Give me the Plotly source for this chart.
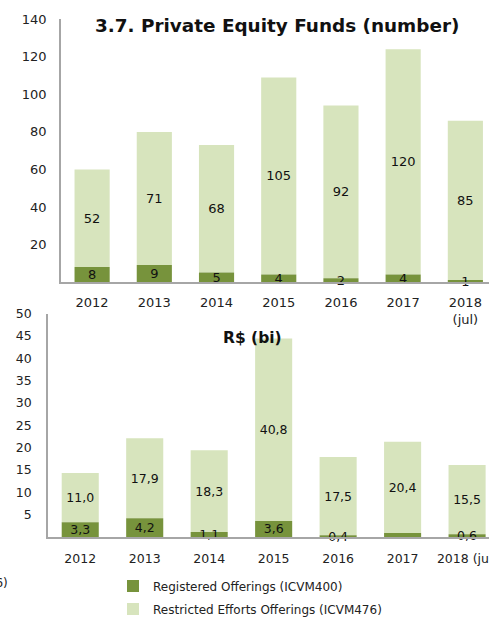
import plotly.graph_objects as go

# data
years_top = ['2012', '2013', '2014', '2015', '2016', '2017', '2018<br>(jul)']
years_bottom = ['2012', '2013', '2014', '2015', '2016', '2017', '2018 (jul)']

registered_num = [8, 9, 5, 4, 2, 4, 1]
restricted_num = [52, 71, 68, 105, 92, 120, 85]

registered_bi = [3.3, 4.2, 1.1, 3.6, 0.4, 0.9, 0.6]
restricted_bi = [11.0, 17.9, 18.3, 40.8, 17.5, 20.4, 15.5]
registered_bi_labels = ['3,3', '4,2', '1,1', '3,6', '0,4', '', '0,6']

dark_green = '#77933C'
light_green = '#D7E4BD'
axis_grey = '#A6A6A6'
font_name = 'DejaVu Sans'

W, H = 489, 618


def comma(v):
    return f'{v:.1f}'.replace('.', ',')


def px_x(p):
    return p / W


def px_y(p):
    return 1 - p / H


fig = go.Figure()

# restricted bars go first (sitting on the registered ones), so the
# small registered labels are drawn on top of everything
# top chart (number of funds)
fig.add_bar(x=years_top, y=restricted_num, base=registered_num,
            text=[str(v) for v in restricted_num],
            marker_color=light_green, width=0.565, xaxis='x', yaxis='y',
            name='Restricted Efforts Offerings (ICVM476)', showlegend=False)
fig.add_bar(x=years_top, y=registered_num, text=[str(v) for v in registered_num],
            marker_color=dark_green, width=0.565, xaxis='x', yaxis='y',
            name='Registered Offerings (ICVM400)', showlegend=False)

# bottom chart (R$ bi)
fig.add_bar(x=years_bottom, y=restricted_bi, base=registered_bi,
            text=[comma(v) for v in restricted_bi],
            marker_color=light_green, width=0.575, xaxis='x2', yaxis='y2',
            name='Restricted Efforts Offerings (ICVM476)', legend='legend2')
fig.add_bar(x=years_bottom, y=registered_bi, text=registered_bi_labels,
            marker_color=dark_green, width=0.575, xaxis='x2', yaxis='y2',
            name='Registered Offerings (ICVM400)', legend='legend')

fig.update_traces(textposition='inside', insidetextanchor='middle', constraintext='none',
                  textangle=0, cliponaxis=False, marker_line_width=0,
                  hoverinfo='skip')
for i, tr in enumerate(fig.data):
    tr.insidetextfont = dict(color='#111', size=13 if i < 2 else 12.5, family=font_name)

axis_common = dict(showline=True, linecolor=axis_grey, linewidth=1.5, showgrid=False,
                   zeroline=False, ticks='', fixedrange=True, automargin=False)

fig.update_layout(
    width=W, height=H,
    margin=dict(l=0, r=0, t=0, b=0, autoexpand=False),
    paper_bgcolor='white', plot_bgcolor='white',
    barmode='overlay',
    font=dict(family=font_name, size=13, color='#222'),
    xaxis=dict(domain=[px_x(61), 1], anchor='y', range=[-0.5, 6.38],
               tickfont=dict(size=13), ticklabelstandoff=8, **axis_common),
    yaxis=dict(domain=[px_y(282), px_y(19.3)], anchor='x', range=[0, 140],
               tickvals=[20, 40, 60, 80, 100, 120, 140], tickfont=dict(size=13),
               ticklabelstandoff=10, **axis_common),
    xaxis2=dict(domain=[px_x(48), 1], anchor='y2', range=[-0.5, 6.34],
                tickfont=dict(size=12.5), ticklabelstandoff=9, **axis_common),
    yaxis2=dict(domain=[px_y(537), px_y(313.5)], anchor='x2', range=[0, 50],
                tickvals=[5, 10, 15, 20, 25, 30, 35, 40, 45, 50], tickfont=dict(size=12.5),
                ticklabelstandoff=12, **axis_common),
    legend=dict(x=px_x(113), y=px_y(586), xanchor='left', yanchor='middle',
                font=dict(size=12, color='#222'), itemwidth=30, bgcolor='rgba(0,0,0,0)'),
    legend2=dict(x=px_x(113), y=px_y(609), xanchor='left', yanchor='middle',
                 font=dict(size=12, color='#222'), itemwidth=30, bgcolor='rgba(0,0,0,0)'),
    annotations=[
        dict(text='<b>3.7. Private Equity Funds (number)</b>', x=px_x(277), y=px_y(25),
             xanchor='center', yanchor='middle',
             xref='paper', yref='paper', showarrow=False, font=dict(size=18.4, color='#111')),
        dict(text='<b>R$ (bi)</b>', x=px_x(252), y=px_y(338),
             xanchor='center', yanchor='middle',
             xref='paper', yref='paper', showarrow=False, font=dict(size=15.5, color='#111')),
        # cut-off legend text from a neighbouring chart
        dict(text='(ICVM476)', x=px_x(10), y=px_y(583), xanchor='right', yanchor='middle',
             xref='paper', yref='paper', showarrow=False, font=dict(size=12, color='#222')),
    ],
)

# no page margin, so the figure sits at the window's top-left corner
fig.write_html('out.html', config={'displayModeBar': False},
               post_script="document.body.style.margin='0';document.body.style.overflow='hidden';")
